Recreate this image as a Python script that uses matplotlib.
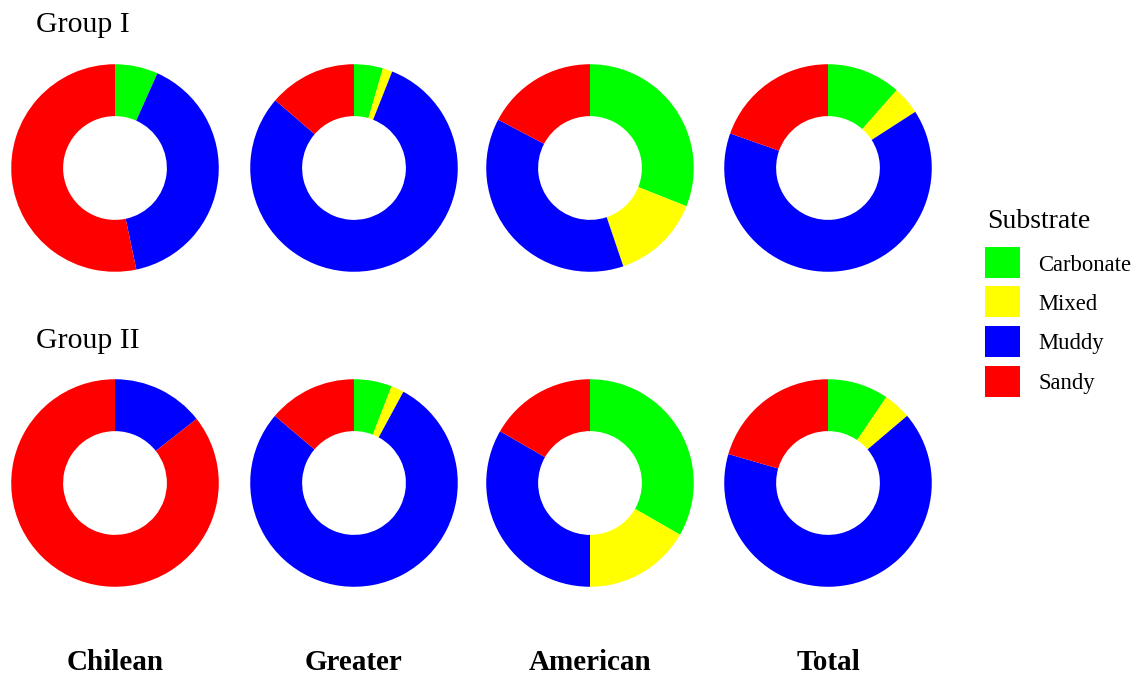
import matplotlib
matplotlib.use("Agg")
import matplotlib.pyplot as plt
from matplotlib.patches import Rectangle

plt.rcParams["font.family"] = ["Liberation Serif", "DejaVu Serif"]

# Substrate shares (%) per region and group
substrates = ["Carbonate", "Mixed", "Muddy", "Sandy"]
colors = ["#00FF00", "#FFFF00", "#0000FF", "#FF0000"]
regions = ["Chilean", "Greater", "American", "Total"]
groups = ["Group I", "Group II"]

group1_chilean = [6.7, 0.0, 40.0, 53.3]
group1_greater = [4.5, 1.5, 80.3, 13.7]
group1_american = [31.0, 13.8, 37.9, 17.3]
group1_total = [11.5, 4.4, 64.5, 19.6]

group2_chilean = [0.0, 0.0, 14.4, 85.6]
group2_greater = [5.9, 2.0, 78.3, 13.8]
group2_american = [33.3, 16.7, 33.3, 16.7]
group2_total = [9.5, 4.3, 65.7, 20.5]

rows = [
    [group1_chilean, group1_greater, group1_american, group1_total],
    [group2_chilean, group2_greater, group2_american, group2_total],
]

W, H = 1139, 677
fig = plt.figure(figsize=(W / 100, H / 100), dpi=100)

col_x = [115, 354, 590, 828]
row_y = [168, 483]
box = 220  # axes size in px; limits of +-1.06 give an outer radius of ~104 px

for r, row in enumerate(rows):
    for c, vals in enumerate(row):
        cx, cy = col_x[c], row_y[r]
        ax = fig.add_axes([(cx - box / 2) / W, 1 - (cy + box / 2) / H, box / W, box / H])
        ax.pie(vals, colors=colors, startangle=90, counterclock=False,
               radius=1.0, wedgeprops=dict(width=0.5, linewidth=0))
        ax.set_xlim(-1.06, 1.06)
        ax.set_ylim(-1.06, 1.06)
        ax.set_aspect("equal")
        ax.axis("off")

# Group titles
fig.text(36 / W, 1 - 25 / H, groups[0], fontsize=21.5, ha="left", va="center")
fig.text(36 / W, 1 - 341 / H, groups[1], fontsize=21.5, ha="left", va="center")

# Region labels
for c, name in enumerate(regions):
    fig.text(col_x[c] / W, 1 - 662 / H, name, fontsize=21, fontweight="bold",
             ha="center", va="center")

# Legend
fig.text(987 / W, 1 - 221 / H, "Substrate", fontsize=20, ha="left", va="center")
key_y = [262, 301, 341, 381]
for i, (lab, col) in enumerate(zip(substrates, colors)):
    y = key_y[i]
    fig.patches.append(Rectangle((985 / W, 1 - (y + 16) / H), 35 / W, 31 / H,
                                 facecolor=col, edgecolor="none",
                                 transform=fig.transFigure, figure=fig))
    fig.text(1038 / W, 1 - (y + 3) / H, lab, fontsize=16.3, ha="left", va="center")

fig.savefig("out.png", dpi=100, facecolor="white")
